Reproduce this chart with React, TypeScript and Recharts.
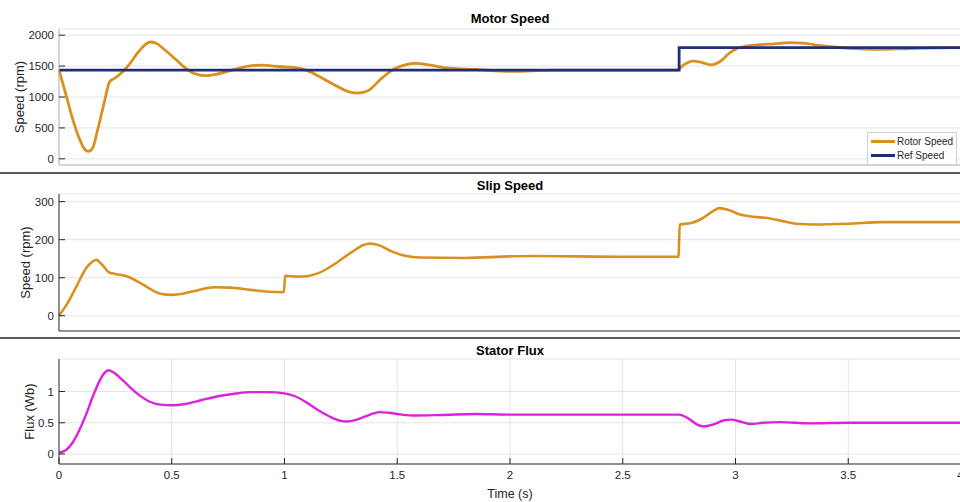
import { LineChart, Line, XAxis, YAxis, CartesianGrid, Legend } from 'recharts';

const TIME_TICKS = [0, 0.5, 1, 1.5, 2, 2.5, 3, 3.5, 4];
const SPEED_TICKS = [0, 500, 1000, 1500, 2000];
const SLIP_TICKS = [0, 100, 200, 300];
const FLUX_TICKS = [0, 0.5, 1];
const LEGEND_ORDER = ['Rotor Speed', 'Ref Speed'];

// [time (s), rpm]
const rotorSpeed = [
  [0, 1440], [0.03, 1050], [0.06, 650], [0.09, 330], [0.115, 150], [0.13, 120], [0.15, 180],
  [0.17, 450], [0.2, 900], [0.225, 1250], [0.25, 1310], [0.28, 1400], [0.31, 1520], [0.35, 1720],
  [0.38, 1840], [0.405, 1890], [0.43, 1870], [0.47, 1760], [0.52, 1600], [0.56, 1470], [0.6, 1380],
  [0.65, 1345], [0.7, 1370], [0.77, 1440], [0.84, 1500], [0.9, 1515], [0.95, 1500], [1.0, 1485],
  [1.04, 1480], [1.1, 1430], [1.15, 1340], [1.22, 1200], [1.29, 1080], [1.33, 1065], [1.37, 1100],
  [1.43, 1300], [1.49, 1460], [1.54, 1525], [1.58, 1545], [1.64, 1520], [1.72, 1470], [1.85, 1445],
  [2.0, 1415], [2.1, 1425], [2.2, 1435], [2.74, 1435], [2.77, 1520], [2.81, 1580], [2.85, 1560],
  [2.89, 1520], [2.93, 1570], [2.97, 1700], [3.01, 1790], [3.09, 1840], [3.17, 1860], [3.24, 1880],
  [3.3, 1870], [3.38, 1830], [3.45, 1805], [3.55, 1780], [3.63, 1772], [3.75, 1780], [3.86, 1790],
  [4, 1800],
];

const refSpeed = [[0, 1435], [2.75, 1800], [4, 1800]];

const slipSpeed = [
  [0, 0], [0.04, 35], [0.08, 80], [0.12, 125], [0.15, 143], [0.165, 147], [0.19, 135], [0.22, 115],
  [0.25, 110], [0.3, 104], [0.35, 90], [0.4, 72], [0.45, 58], [0.5, 55], [0.55, 58], [0.62, 68],
  [0.69, 75], [0.76, 74], [0.85, 68], [0.93, 63], [0.997, 62], [1.003, 105], [1.06, 103], [1.1, 104],
  [1.15, 112], [1.22, 135], [1.3, 168], [1.35, 186], [1.38, 190], [1.42, 185], [1.48, 168],
  [1.54, 157], [1.6, 153], [1.8, 152], [2.0, 156], [2.1, 157], [2.3, 156], [2.5, 155], [2.747, 155],
  [2.753, 240], [2.8, 243], [2.85, 255], [2.9, 275], [2.93, 283], [2.97, 278], [3.02, 266],
  [3.08, 260], [3.14, 257], [3.2, 250], [3.27, 242], [3.35, 240], [3.5, 242], [3.65, 246],
  [3.8, 246], [4, 246],
];

const statorFlux = [
  [0, 0.02], [0.03, 0.06], [0.06, 0.18], [0.09, 0.38], [0.12, 0.63], [0.15, 0.92], [0.18, 1.17],
  [0.2, 1.29], [0.22, 1.34], [0.24, 1.31], [0.28, 1.19], [0.32, 1.05], [0.36, 0.93], [0.4, 0.84],
  [0.45, 0.79], [0.5, 0.78], [0.56, 0.8], [0.63, 0.86], [0.7, 0.92], [0.77, 0.96], [0.85, 0.99],
  [0.92, 0.99], [1.0, 0.97], [1.05, 0.92], [1.1, 0.82], [1.15, 0.7], [1.2, 0.6], [1.25, 0.53],
  [1.28, 0.52], [1.32, 0.55], [1.38, 0.63], [1.42, 0.67], [1.46, 0.66], [1.52, 0.63], [1.58, 0.615],
  [1.7, 0.625], [1.85, 0.64], [2.0, 0.63], [2.3, 0.63], [2.6, 0.63], [2.75, 0.63], [2.79, 0.57],
  [2.83, 0.47], [2.86, 0.44], [2.9, 0.47], [2.95, 0.54], [2.98, 0.55], [3.02, 0.52], [3.07, 0.48],
  [3.12, 0.5], [3.2, 0.51], [3.33, 0.49], [3.5, 0.5], [4, 0.5],
];

const ORANGE = '#D9901F';
const NAVY = '#1E2F78';
const MAGENTA = '#DD22DD';
const TEXT = '#262626';
const GRID = '#e4e4e4';

const toRows = (pts: number[][]) => pts.map(([t, v]) => ({ t, v }));

function renderLegend(props: any) {
  const items = props.payload || [];
  return (
    <div
      style={{
        border: '1px solid #d0d0d0',
        background: '#fff',
        padding: '1px 3px 2px 3px',
        width: 82,
        fontSize: 10,
        color: TEXT,
        whiteSpace: 'nowrap',
      }}
    >
      {items.map((entry: any) => (
        <div key={entry.value} style={{ display: 'flex', alignItems: 'center', height: 14 }}>
          <span style={{ width: 24, borderTop: `3px solid ${entry.color}`, marginRight: 2, flex: 'none' }} />
          {entry.value}
        </div>
      ))}
    </div>
  );
}

interface PanelProps {
  top: number;
  height: number;
  marginTop: number;
  xAxisHeight: number;
  title: string;
  titleY: number;
  yLabel: string;
  yLabelX: number;
  yDomain: number[];
  yTicks: number[];
  boxColor: string;
  bottom?: boolean;
  children: any;
}

function Panel(p: PanelProps) {
  const tickStyle = { fontSize: 11.5, fill: TEXT };
  return (
    <>
      <div style={{ position: 'absolute', left: 0, top: p.top }}>
        <LineChart width={963} height={p.height} margin={{ top: p.marginTop, right: 0, bottom: 0, left: 0 }}>
          <CartesianGrid stroke={GRID} strokeDasharray="" />
          <XAxis
            dataKey="t"
            type="number"
            domain={[0, 4]}
            ticks={TIME_TICKS}
            height={p.xAxisHeight}
            allowDuplicatedCategory={false}
            tick={p.bottom ? tickStyle : false}
            tickSize={-6}
            tickMargin={13}
            tickLine={{ stroke: TEXT }}
            axisLine={{ stroke: p.boxColor }}
            label={p.bottom ? { value: 'Time (s)', position: 'insideBottom', offset: 4, fontSize: 12.5, fill: TEXT } : undefined}
          />
          <XAxis
            xAxisId="top"
            orientation="top"
            type="number"
            domain={[0, 4]}
            ticks={TIME_TICKS}
            height={0}
            tick={false}
            tickSize={-6}
            tickLine={{ stroke: TEXT }}
            axisLine={{ stroke: p.boxColor }}
          />
          <YAxis
            type="number"
            domain={p.yDomain}
            ticks={p.yTicks}
            width={59}
            allowDataOverflow
            tick={tickStyle}
            tickSize={-6}
            tickMargin={11}
            tickLine={{ stroke: TEXT }}
            axisLine={{ stroke: p.boxColor }}
            label={{
              value: p.yLabel,
              angle: -90,
              position: 'insideLeft',
              offset: p.yLabelX,
              fontSize: 13,
              fill: TEXT,
              style: { textAnchor: 'middle' },
            }}
          />
          <YAxis
            yAxisId="right"
            orientation="right"
            type="number"
            domain={p.yDomain}
            ticks={p.yTicks}
            width={2}
            allowDataOverflow
            tick={false}
            tickSize={-6}
            tickLine={{ stroke: TEXT }}
            axisLine={{ stroke: p.boxColor }}
          />
          {p.children}
        </LineChart>
      </div>
      <div
        style={{
          position: 'absolute',
          left: 410,
          width: 200,
          top: p.titleY - 8,
          height: 16,
          lineHeight: '16px',
          textAlign: 'center',
          fontSize: 13,
          fontWeight: 'bold',
          color: '#000',
        }}
      >
        {p.title}
      </div>
    </>
  );
}

export default function App() {
  return (
    <div
      style={{
        position: 'absolute',
        left: 0,
        top: 0,
        width: 960,
        height: 502,
        overflow: 'hidden',
        background: '#fff',
        fontFamily: '"Liberation Sans", Arial, sans-serif',
      }}
    >
      <Panel
        top={0}
        height={172}
        marginTop={29}
        xAxisHeight={7}
        title="Motor Speed"
        titleY={19}
        yLabel="Speed (rpm)"
        yLabelX={19}
        yDomain={[-100, 2100]}
        yTicks={SPEED_TICKS}
        boxColor="#b8b8b8"
      >
        <Line
          data={toRows(rotorSpeed)}
          dataKey="v"
          name="Rotor Speed"
          type="monotone"
          stroke={ORANGE}
          strokeWidth={2.8}
          dot={false}
          isAnimationActive={false}
        />
        <Line
          data={toRows(refSpeed)}
          dataKey="v"
          name="Ref Speed"
          type="stepAfter"
          stroke={NAVY}
          strokeWidth={2.8}
          dot={false}
          isAnimationActive={false}
        />
        <Legend
          layout="vertical"
          align="center"
          verticalAlign="middle"
          content={renderLegend}
          itemSorter={(item: any) => LEGEND_ORDER.indexOf(item.value)}
          wrapperStyle={{ left: 867, top: 132, width: 90 }}
        />
      </Panel>
      <Panel
        top={172}
        height={166}
        marginTop={22}
        xAxisHeight={7}
        title="Slip Speed"
        titleY={185.5}
        yLabel="Speed (rpm)"
        yLabelX={25}
        yDomain={[-40, 320]}
        yTicks={SLIP_TICKS}
        boxColor="#333"
      >
        <Line
          data={toRows(slipSpeed)}
          dataKey="v"
          name="Slip Speed"
          type="monotone"
          stroke={ORANGE}
          strokeWidth={2.6}
          dot={false}
          isAnimationActive={false}
        />
      </Panel>
      <Panel
        top={338}
        height={164}
        marginTop={21}
        xAxisHeight={38}
        title="Stator Flux"
        titleY={350.5}
        yLabel="Flux (Wb)"
        yLabelX={29}
        yDomain={[-0.16, 1.52]}
        yTicks={FLUX_TICKS}
        boxColor="#333"
        bottom
      >
        <Line
          data={toRows(statorFlux)}
          dataKey="v"
          name="Stator Flux"
          type="monotone"
          stroke={MAGENTA}
          strokeWidth={2.4}
          dot={false}
          isAnimationActive={false}
        />
      </Panel>
      <div style={{ position: 'absolute', left: 0, top: 172, width: 960, height: 2, background: '#5a5a5a' }} />
      <div style={{ position: 'absolute', left: 0, top: 337, width: 960, height: 2, background: '#5a5a5a' }} />
    </div>
  );
}
